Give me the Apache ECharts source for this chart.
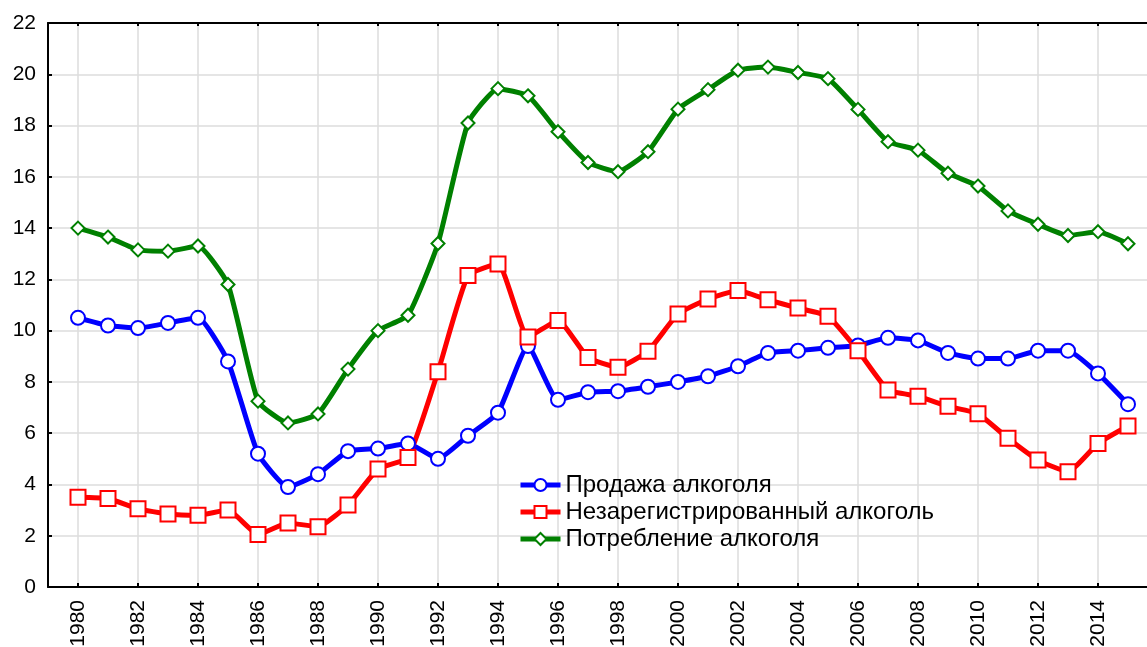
<!DOCTYPE html>
<html>
<head>
<meta charset="utf-8">
<title>Алкоголь</title>
<script src="https://cdn.jsdelivr.net/npm/echarts@6/dist/echarts.min.js"></script>
<style>
  html, body { margin: 0; padding: 0; background: #fff; }
  #chart { width: 1147px; height: 647px; }
</style>
</head>
<body>
<div id="chart"></div>
<script>
// годы 1980-2015
let years = [];
for (let y = 1980; y <= 2015; y++) years.push(y);

// Продажа алкоголя
let sales = [10.5, 10.2, 10.1, 10.3, 10.5, 8.8, 5.2, 3.9, 4.4, 5.3,
  5.4, 5.6, 5.0, 5.9, 6.8, 9.4, 7.3, 7.6, 7.64, 7.81,
  8.0, 8.22, 8.61, 9.13, 9.22, 9.33, 9.42, 9.72, 9.62, 9.13,
  8.91, 8.91, 9.22, 9.22, 8.33, 7.13];

// Незарегистрированный алкоголь
let unregistered = [3.5, 3.45, 3.05, 2.85, 2.8, 3.0, 2.05, 2.5, 2.35, 3.2,
  4.6, 5.05, 8.4, 12.15, 12.6, 9.75, 10.4, 8.95, 8.57, 9.2,
  10.65, 11.23, 11.57, 11.2, 10.88, 10.56, 9.22, 7.68, 7.44, 7.05,
  6.76, 5.8, 4.95, 4.5, 5.6, 6.28];

// Потребление алкоголя
let consumption = [14.0, 13.65, 13.15, 13.1, 13.3, 11.8, 7.25, 6.4, 6.75, 8.5,
  10.0, 10.6, 13.4, 18.1, 19.44, 19.16, 17.76, 16.56, 16.2, 16.98,
  18.64, 19.4, 20.16, 20.28, 20.07, 19.83, 18.63, 17.37, 17.04, 16.14,
  15.64, 14.67, 14.15, 13.71, 13.86, 13.39];

let seriesNames = ["Продажа алкоголя", "Незарегистрированный алкоголь", "Потребление алкоголя"];

// категории оси X: на год шире с каждой стороны (правый край уходит за кадр)
let axisYears = [];
for (let y = 1979; y <= 2016; y++) axisYears.push(String(y));

function pairs (values) {
  return values.map(function (v, i) { return [String(years[i]), v]; });
}

function evenYear (index, value) {
  return Number(value) % 2 === 0;
}

let font = "'Liberation Sans', Arial, sans-serif";

let myChart = echarts.init(document.getElementById("chart"), null, { renderer: "canvas" });
let option = {
  animation: false,
  backgroundColor: "#fff",
  grid: {
    left: 48,
    top: 23,
    height: 564,
    width: 1110,
    // не ужимать сетку ради подписей
    outerBoundsMode: "none",
    containLabel: false
  },
  legend: {
    orient: "vertical",
    left: 513,
    top: 468,
    itemWidth: 40,
    itemHeight: 15,
    itemGap: 3,
    data: seriesNames,
    lineStyle: { width: 5 },
    textStyle: {
      fontFamily: font,
      fontSize: 24,
      color: "#000",
      lineHeight: 24
    }
  },
  xAxis: [
    {
      type: "category",
      data: axisYears,
      boundaryGap: false,
      axisLine: { lineStyle: { color: "#000", width: 2 } },
      axisTick: { inside: true, length: 4, interval: evenYear, lineStyle: { color: "#000", width: 2 } },
      axisLabel: {
        interval: evenYear,
        rotate: 90,
        margin: 13,
        fontFamily: font,
        fontSize: 21,
        color: "#000"
      },
      splitLine: { show: true, interval: evenYear, lineStyle: { color: "#dcdcdc", width: 1.5 } }
    },
    {
      // верхняя рамка
      type: "category",
      position: "top",
      data: axisYears,
      boundaryGap: false,
      axisLine: { lineStyle: { color: "#000", width: 2 } },
      axisTick: { inside: true, length: 3, interval: evenYear, lineStyle: { color: "#000", width: 2 } },
      axisLabel: { show: false },
      splitLine: { show: false }
    }
  ],
  yAxis: {
    type: "value",
    min: 0,
    max: 22,
    interval: 2,
    axisLine: { show: true, lineStyle: { color: "#000", width: 2 } },
    axisTick: { show: true, inside: true, length: 4, lineStyle: { color: "#000", width: 2 } },
    axisLabel: {
      margin: 12,
      fontFamily: font,
      fontSize: 21,
      color: "#000"
    },
    splitLine: { show: true, lineStyle: { color: "#dcdcdc", width: 1.5 } }
  },
  series: [
    {
      name: seriesNames[0],
      type: "line",
      data: pairs(sales),
      smooth: 0.15,
      symbol: "emptyCircle",
      symbolSize: 14,
      color: "#0000ff",
      lineStyle: { width: 5, color: "#0000ff", join: "round" },
      itemStyle: { color: "#0000ff", borderWidth: 1.5 }
    },
    {
      name: seriesNames[1],
      type: "line",
      data: pairs(unregistered),
      smooth: 0.15,
      symbol: "emptyRect",
      symbolSize: 15,
      color: "#ff0000",
      lineStyle: { width: 5, color: "#ff0000", join: "round" },
      itemStyle: { color: "#ff0000", borderWidth: 1.5 }
    },
    {
      name: seriesNames[2],
      type: "line",
      data: pairs(consumption),
      smooth: 0.15,
      symbol: "emptyDiamond",
      symbolSize: [13, 13],
      color: "#008000",
      lineStyle: { width: 5, color: "#008000", join: "round" },
      itemStyle: { color: "#008000", borderWidth: 1.5 }
    }
  ]
};
myChart.setOption(option);
</script>
</body>
</html>
